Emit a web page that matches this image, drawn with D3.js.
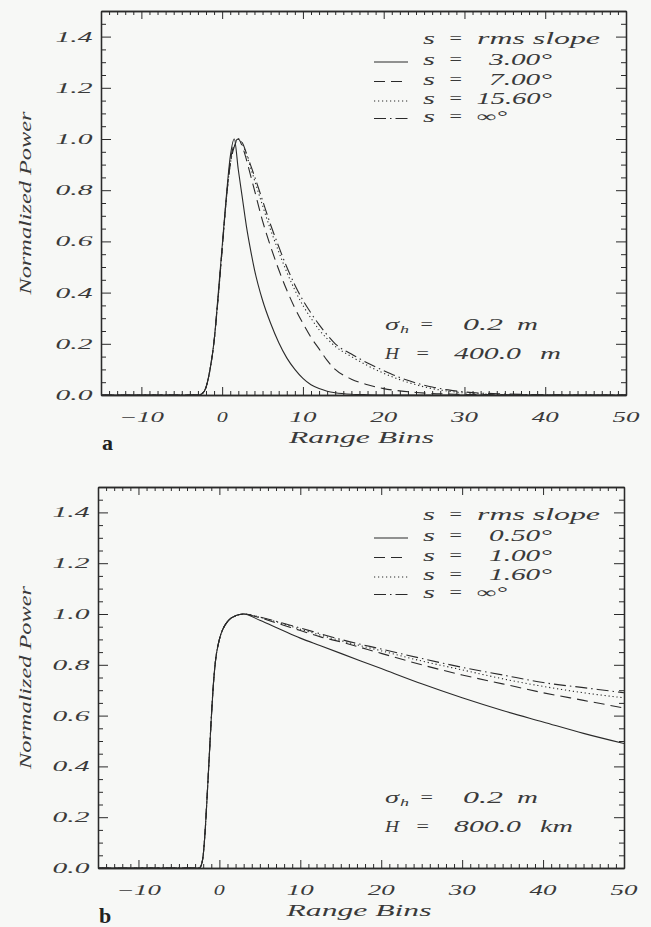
<!DOCTYPE html>
<html><head><meta charset="utf-8">
<script src="https://cdn.jsdelivr.net/npm/d3@7"></script>
<style>
html,body{margin:0;padding:0;background:#f7f8f6;}
svg{display:block;}
text{font-family:"Liberation Serif","Times New Roman",serif;font-style:italic;fill:#3a3a3a;}
</style></head><body>
<svg id="chart" width="651" height="927"></svg>
<script>
// ---------- data ----------
const xTicks = [-10, 0, 10, 20, 30, 40, 50];
const xTickLabels = ["\u221210", "0", "10", "20", "30", "40", "50"];
const yTicks = [0, 0.2, 0.4, 0.6, 0.8, 1.0, 1.2, 1.4];
const yTickLabels = ["0.0", "0.2", "0.4", "0.6", "0.8", "1.0", "1.2", "1.4"];
const xTitle = "Range Bins";
const yTitle = "Normalized Power";

// panel a : H = 400 m
const xA = [-15,-5,-3,-2.5,-2,-1.5,-1,-0.5,0,0.5,1,1.5,2,2.5,3,3.5,4,5,6,7,8,9,10,11,12,13,14,16,18,20,22,24,26,28,30,35,40,45,50];
const aS3   = [0,0,0,0.005,0.03,0.1,0.21,0.39,0.58,0.77,0.93,1.0,0.88,0.77,0.66,0.57,0.49,0.37,0.28,0.205,0.145,0.1,0.065,0.04,0.025,0.015,0.009,0.003,0.001,0,0,0,0,0,0,0,0,0,0];
const aS7   = [0,0,0,0.005,0.03,0.1,0.21,0.38,0.57,0.76,0.91,0.98,1.0,0.97,0.92,0.86,0.8,0.68,0.58,0.49,0.41,0.34,0.28,0.225,0.18,0.135,0.1,0.062,0.04,0.025,0.016,0.01,0.006,0.004,0.002,0.001,0,0,0];
const aS156 = [0,0,0,0.005,0.03,0.1,0.21,0.38,0.57,0.76,0.9,0.97,1.0,0.98,0.94,0.89,0.84,0.74,0.645,0.56,0.48,0.41,0.35,0.3,0.255,0.22,0.19,0.15,0.115,0.085,0.06,0.04,0.025,0.015,0.008,0.002,0.001,0,0];
const aSinf = [0,0,0,0.005,0.03,0.1,0.21,0.38,0.57,0.76,0.9,0.97,1.0,0.985,0.945,0.9,0.855,0.76,0.665,0.58,0.5,0.43,0.37,0.32,0.275,0.235,0.2,0.16,0.125,0.095,0.068,0.047,0.031,0.02,0.012,0.004,0.001,0,0];
const legendA = ["3.00", "7.00", "15.60", "\u221e"];
const annotA = [["\u03c3", "0.2", "m"], ["H", "400.0", "m"]];

// panel b : H = 800 km
const xB = [-15,-5,-2.5,-2.25,-2,-1.75,-1.5,-1.25,-1,-0.75,-0.5,0,0.5,1,1.5,2,2.5,3,5,7.5,10,12.5,15,20,25,30,35,40,45,50];
const bS05  = [0,0,0,0.01,0.05,0.15,0.29,0.44,0.59,0.72,0.81,0.9,0.945,0.97,0.985,0.993,0.998,1.0,0.975,0.94,0.905,0.875,0.845,0.785,0.725,0.67,0.62,0.575,0.53,0.49];
const bS10  = [0,0,0,0.01,0.05,0.15,0.29,0.44,0.59,0.72,0.81,0.9,0.945,0.97,0.985,0.993,0.998,1.0,0.985,0.96,0.935,0.91,0.89,0.845,0.8,0.76,0.725,0.69,0.66,0.63];
const bS16  = [0,0,0,0.01,0.05,0.15,0.29,0.44,0.59,0.72,0.81,0.9,0.945,0.97,0.985,0.993,0.998,1.0,0.987,0.965,0.94,0.917,0.895,0.855,0.815,0.78,0.745,0.715,0.69,0.67];
const bSinf = [0,0,0,0.01,0.05,0.15,0.29,0.44,0.59,0.72,0.81,0.9,0.945,0.97,0.985,0.993,0.998,1.0,0.988,0.967,0.945,0.922,0.9,0.862,0.825,0.79,0.76,0.73,0.71,0.69];
const legendB = ["0.50", "1.00", "1.60", "\u221e"];
const annotB = [["\u03c3", "0.2", "m"], ["H", "800.0", "km"]];

const dashStyles = [null, "11,6", "1.2,2.8", "12,4,1.5,4"];

// ---------- drawing ----------
const svg = d3.select("#chart");
const INK = "#2a2a2a";

function fitText(g, str, x, y, w, size, anchor) {
  const x0 = anchor === "end" ? x - w : anchor === "middle" ? x - w / 2 : x;
  const t = g.append("text").attr("x", x0).attr("y", y).attr("font-size", size).text(str);
  if (w) t.attr("textLength", w).attr("lengthAdjust", "spacingAndGlyphs");
  return t;
}

function panel(cfg) {
  const {L, R, T, B} = cfg;
  const g = svg.append("g");
  const x = d3.scaleLinear().domain([-15, 50]).range([L, R]);
  const y = d3.scaleLinear().domain([0, 1.5]).range([B, T]);

  const xMinor = d3.range(-15, 51, 1).filter(v => v % 10 !== 0);
  const yMinor = d3.range(1, 30).map(v => v * 0.05).filter(v => Math.abs(v / 0.2 - Math.round(v / 0.2)) > 1e-6);

  const axes = [
    [d3.axisBottom(x), `translate(0,${B})`, 8, 4, xTicks, xMinor],
    [d3.axisTop(x), `translate(0,${T})`, 8, 4, xTicks, xMinor],
    [d3.axisLeft(y), `translate(${L},0)`, 10, 5, yTicks, yMinor],
    [d3.axisRight(y), `translate(${R},0)`, 10, 5, yTicks, yMinor]
  ];
  axes.forEach(([ax, tr, maj, min, majV, minV]) => {
    const gm = g.append("g").attr("transform", tr)
      .call(ax.tickValues(minV).tickSize(-min).tickSizeOuter(0).tickFormat(""));
    const gM = g.append("g").attr("transform", tr)
      .call(ax.tickValues(majV).tickSize(-maj).tickSizeOuter(0).tickFormat(""));
    [gm, gM].forEach(a => {
      a.selectAll("path").attr("stroke", INK).attr("stroke-width", 1.3);
      a.selectAll("line").attr("stroke", INK).attr("stroke-width", 1);
      a.selectAll("text").remove();
    });
  });

  // tick labels
  yTicks.forEach((v, i) => fitText(g, yTickLabels[i], L - 8.5, y(v) + 5, 37, 14.5, "end"));
  xTicks.forEach((v, i) => {
    const s = xTickLabels[i];
    const w = s.length === 1 ? 11 : (s[0] === "\u2212" ? 45 : 27);
    fitText(g, s, x(v), B + 26.5, w, 14.5, "middle");
  });
  // titles
  fitText(g, xTitle, (L + R) / 2 - 2, B + 48, 145, 17, "middle");
  const gy = g.append("g").attr("transform", `translate(31,${(T + B) / 2}) rotate(-90)`);
  fitText(gy, yTitle, 0, 0, 183, 17, "middle");

  // panel letter
  g.append("text").attr("x", L + 1).attr("y", cfg.letterY).attr("font-size", 22)
    .style("font-style", "normal").style("font-weight", "bold").style("fill", "#222").text(cfg.letter);

  // curves
  const clipId = "clip" + cfg.letter;
  svg.append("clipPath").attr("id", clipId).append("rect")
    .attr("x", L).attr("y", T).attr("width", R - L).attr("height", B - T);
  const line = d3.line().x(d => x(d[0])).y(d => y(d[1])).curve(d3.curveMonotoneX);
  const gc = g.append("g").attr("clip-path", `url(#${clipId})`);
  cfg.series.forEach((ys, i) => {
    gc.append("path").datum(cfg.xs.map((xv, k) => [xv, ys[k]]))
      .attr("d", line).attr("fill", "none").attr("stroke", INK).attr("stroke-width", 1.1)
      .attr("stroke-dasharray", dashStyles[i]);
  });

  // legend
  const rows = [T + 32.5, T + 54, T + 73.5, T + 93, T + 110.5];
  fitText(g, "s", 423, rows[0], 12, 16, "start");
  fitText(g, "=", 448, rows[0], 15, 16, "start");
  fitText(g, "rms slope", 477, rows[0], 123, 16, "start");
  cfg.legend.forEach((lab, i) => {
    const yy = rows[i + 1];
    g.append("line").attr("x1", 374).attr("x2", 408).attr("y1", yy - 3).attr("y2", yy - 3)
      .attr("stroke", INK).attr("stroke-width", 1.1).attr("stroke-dasharray", dashStyles[i]);
    fitText(g, "s", 423, yy, 12, 16, "start");
    fitText(g, "=", 448, yy, 15, 16, "start");
    if (lab === "\u221e") fitText(g, lab + "\u00b0", 477, yy, 30, 16, "start");
    else fitText(g, lab + "\u00b0", 552, yy, (lab.length + 1) * 12.6, 16, "end");
  });

  // annotations
  const ay = [B - 65, B - 36.5];
  cfg.annot.forEach((a, i) => {
    const yy = ay[i];
    fitText(g, a[0], 385, yy, 14, 16, "start");
    if (i === 0) fitText(g, "h", 400, yy + 3, 9, 10, "start");
    fitText(g, "=", i === 0 ? 419 : 415, yy, 15, 16, "start");
    fitText(g, a[1], i === 0 ? 463 : 454, yy, i === 0 ? 40 : 67, 16, "start");
    fitText(g, a[2], 540 - (i === 0 ? 23 : 0), yy, a[2].length === 1 ? 21 : 33, 16, "start");
  });
}

panel({L: 101, R: 626, T: 11, B: 395, xs: xA, series: [aS3, aS7, aS156, aSinf],
       legend: legendA, annot: annotA, letter: "a", letterY: 450});
panel({L: 98, R: 624, T: 487, B: 868, xs: xB, series: [bS05, bS10, bS16, bSinf],
       legend: legendB, annot: annotB, letter: "b", letterY: 923});
</script>
</body></html>
